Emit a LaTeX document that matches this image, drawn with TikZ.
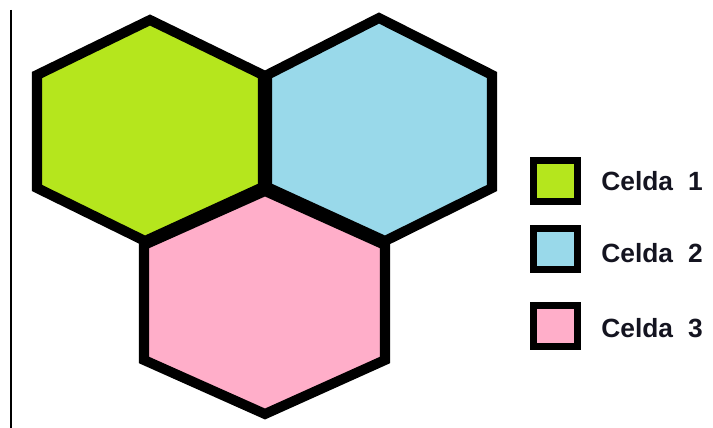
\documentclass[tikz,border=0pt]{standalone}
\usepackage{fontspec}
\setmainfont{Liberation Sans}
\usetikzlibrary{positioning}
\definecolor{CellGreen}{HTML}{B5E61D}
\definecolor{CellBlue}{HTML}{99D9EA}
\definecolor{CellPink}{HTML}{FFAEC9}
\definecolor{TextDark}{HTML}{141420}

\begin{document}
\begin{tikzpicture}[x=0.02cm, y=-0.02cm,
  cell/.style={draw=black, line width=5.7pt, line join=miter},
  key/.style={draw=black, line width=4pt, minimum width=0.88cm,
              minimum height=0.82cm, inner sep=0pt},
  lbl/.style={font=\bfseries\fontsize{15}{17}\selectfont, text=TextDark,
              inner sep=0pt, right=0.4cm of #1},
]
  \useasboundingbox (0,0) rectangle (713,428);
  \draw[line width=0.85pt] (11,10) -- (11,428);

  % the three cells
  \filldraw[cell, fill=CellGreen] (37,75) -- (150,20) -- (263,75) -- (263,187)
    -- (145,241) -- (37,188) -- cycle;
  \filldraw[cell, fill=CellBlue] (267,75) -- (379,18) -- (492,75) -- (492,188)
    -- (385,241) -- (267,187) -- cycle;
  \filldraw[cell, fill=CellPink] (144,245) -- (265,191) -- (385,245) -- (385,360)
    -- (265,414) -- (144,360) -- cycle;

  % legend
  \node[key, fill=CellGreen] (key1) at (555.5,181) {};
  \node[key, fill=CellBlue]  (key2) at (555.5,249) {};
  \node[key, fill=CellPink]  (key3) at (555.5,326) {};
  \node[lbl=key1] (lbl1) {Celda\hspace{0.3cm}1};
  \node[lbl=key2, yshift=-0.08cm] (lbl2) {Celda\hspace{0.3cm}2};
  \node[lbl=key3, yshift=-0.04cm] (lbl3) {Celda\hspace{0.3cm}3};
\end{tikzpicture}
\end{document}
